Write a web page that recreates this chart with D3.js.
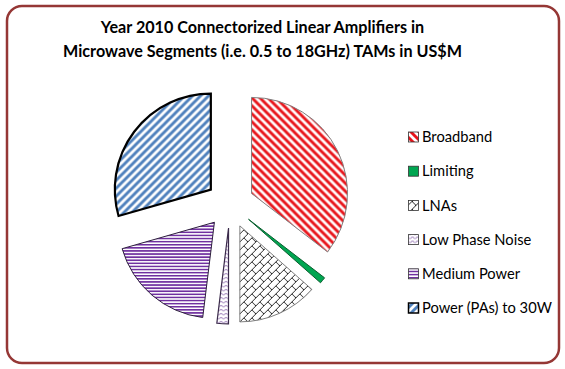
<!DOCTYPE html>
<html><head><meta charset="utf-8">
<script src="https://cdn.jsdelivr.net/npm/d3@7"></script>
<style>html,body{margin:0;padding:0;background:#fff;}svg{display:block;}</style>
</head><body>
<svg id="chart" width="565" height="369"></svg>
<script>
const categories = ["Broadband","Limiting","LNAs","Low Phase Noise","Medium Power","Power (PAs) to 30W"];
const values = [35.44, 1.06, 13.5, 1.94, 18.61, 29.44];
const titleLines = ["Year 2010 Connectorized Linear Amplifiers in","Microwave Segments (i.e. 0.5 to 18GHz) TAMs in US$M"];

const svg = d3.select("#chart");
const W = 565, H = 369;
svg.append("rect").attr("width",W).attr("height",H).attr("fill","#fff");
svg.append("rect").attr("x",7).attr("y",6).attr("width",552).attr("height",357)
  .attr("rx",15).attr("ry",15).attr("fill","#fff").attr("stroke","#953735").attr("stroke-width",2.5);

const defs = svg.append("defs");
function pat(id,w,h,bg,draw){
  const p = defs.append("pattern").attr("id",id).attr("patternUnits","userSpaceOnUse").attr("width",w).attr("height",h);
  p.append("rect").attr("width",w).attr("height",h).attr("fill",bg);
  draw(p);
}
pat("p0",8,8,"#fff",p=>p.append("path").attr("d","M0,0L8,8M-4,4L4,12M4,-4L12,4").attr("stroke","#E8141A").attr("stroke-width",2.9));
pat("p1",4,4,"#00A651",p=>{});
pat("p2",8,8,"#fff",p=>p.append("path").attr("d","M0,8L8,0M-4,4L4,-4M4,12L12,4M4,4L8,8M-4,4L0,8").attr("stroke","#111").attr("stroke-width",0.9).attr("fill","none"));
pat("p3",5,4,"#fff",p=>p.append("path").attr("d","M0,3.5L2.5,1L5,3.5").attr("stroke","#7A4FA0").attr("stroke-width",0.9).attr("fill","none"));
pat("p4",6,3.1,"#fff",p=>p.append("rect").attr("y",0).attr("width",6).attr("height",1.6).attr("fill","#7030A0"));
pat("p5",8,8,"#fff",p=>p.append("path").attr("d","M0,8L8,0M-4,4L4,-4M4,12L12,4").attr("stroke","#4F81BD").attr("stroke-width",2.9));

const strokes = ["#7f7f7f","#0b5e2f","#7f7f7f","#3a2a4a","#2d1f3d","#000"];
const strokeW = [1,1,1,1.2,1,2.2];

const cx = 230, cy = 204, R = 96, explode = 24;
const pie = d3.pie().sort(null).value(d=>d).startAngle(0).endAngle(2*Math.PI);
const arcs = pie(values);
const arc = d3.arc().innerRadius(0).outerRadius(R);
const g = svg.append("g").attr("transform",`translate(${cx},${cy})`);
g.selectAll("path.slice").data(arcs).join("path").attr("class","slice")
  .attr("transform",d=>{const a=(d.startAngle+d.endAngle)/2;return `translate(${explode*Math.sin(a)},${-explode*Math.cos(a)})`;})
  .attr("d",arc)
  .attr("fill",(d,i)=>`url(#p${i})`)
  .attr("stroke",(d,i)=>strokes[i]).attr("stroke-width",(d,i)=>strokeW[i]).attr("stroke-linejoin","miter");

// Title
const font = "Lato, 'Open Sans', sans-serif";
const tt = svg.append("g");
const t1 = tt.append("text").attr("x",262.5).attr("y",33).text(titleLines[0]);
const t2 = tt.append("text").attr("x",262.5).attr("y",57).text(titleLines[1]);
tt.selectAll("text").attr("text-anchor","middle").attr("font-family",font).attr("font-weight","bold").attr("font-size",18).attr("fill","#000");
const w2 = t2.node().getComputedTextLength();
const fs = 18*399/w2;
tt.selectAll("text").attr("font-size",fs);

// Legend
const ly = d3.scalePoint().domain(categories).range([137,308]);
const lg = svg.append("g");
const rows = lg.selectAll("g").data(categories).join("g").attr("transform",d=>`translate(0,${ly(d)})`);
rows.append("rect").attr("x",408.5).attr("y",-5).attr("width",10).attr("height",10)
  .attr("fill",(d,i)=>`url(#p${i})`).attr("stroke",(d,i)=>i===5?"#000":"#333").attr("stroke-width",(d,i)=>i===5?1.5:0.8);
const lt = rows.append("text").attr("x",422).attr("y",0).attr("dy","0.35em").text(d=>d)
  .attr("font-family",font).attr("font-size",14).attr("fill","#000");
const wl = lt.filter((d,i)=>i===5).node().getComputedTextLength();
lt.attr("font-size",14*130/wl);
</script>
</body></html>
